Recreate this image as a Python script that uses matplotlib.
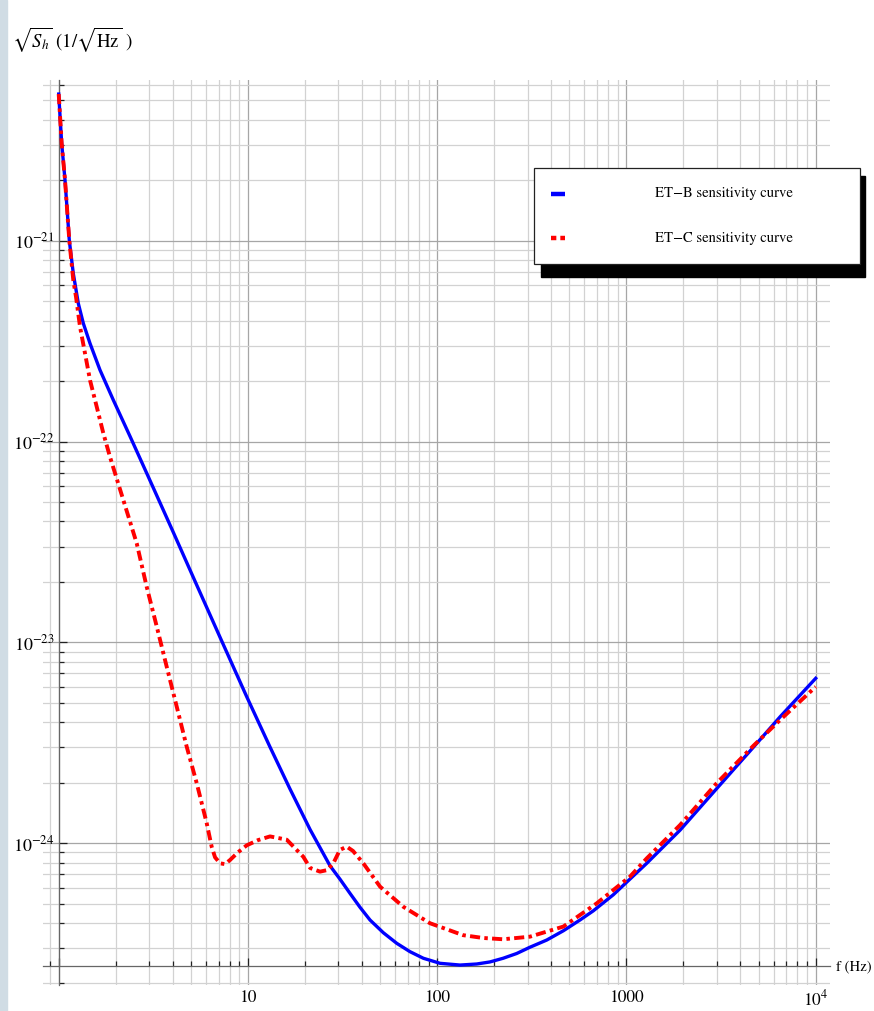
"""ET-B / ET-C sensitivity curves (log-log)."""

import matplotlib
matplotlib.use('Agg')
import matplotlib.pyplot as plt
from matplotlib.patches import Rectangle
from matplotlib.lines import Line2D
from matplotlib.ticker import FixedLocator, FixedFormatter, LogLocator, NullFormatter, LogFormatterMathtext

plt.rcParams['font.family'] = ['STIXGeneral', 'Liberation Serif', 'DejaVu Serif']
plt.rcParams['mathtext.fontset'] = 'stix'

# Curvas (f en Hz, sqrt(S_h) en 1/sqrt(Hz))
etb_freq = [1.0, 1.037, 1.08, 1.138, 1.194, 1.269, 1.349, 1.464, 1.653, 1.943,
            2.381, 2.975, 4.033, 5.36, 7.12, 9.85, 13.08, 16.68, 21.28, 27.14,
            30.65, 34.61, 39.1, 44.16, 51.9, 61.1, 71.8, 84.5, 103.5, 132,
            161.7, 190, 223, 263, 309, 379, 464, 568, 668, 852,
            1279, 1919, 3000, 4680, 6475, 10000]
etb_asd = [5.38e-21, 3.05e-21, 2.0e-21, 1.0e-21, 6.88e-22, 4.88e-22, 3.88e-22, 3.08e-22, 2.27e-22, 1.61e-22,
           1.062e-22, 6.68e-23, 3.53e-23, 1.93e-23, 1.06e-23, 5.36e-24, 3.01e-24, 1.86e-24, 1.17e-24, 7.71e-25,
           6.61e-25, 5.62e-25, 4.79e-25, 4.14e-25, 3.58e-25, 3.17e-25, 2.88e-25, 2.67e-25, 2.52e-25, 2.47e-25,
           2.50e-25, 2.56e-25, 2.67e-25, 2.82e-25, 3.03e-25, 3.29e-25, 3.66e-25, 4.14e-25, 4.60e-25, 5.53e-25,
           7.93e-25, 1.16e-24, 1.87e-24, 3.0e-24, 4.25e-24, 6.62e-24]

etc_freq = [1.0, 1.037, 1.08, 1.138, 1.194, 1.234, 1.296, 1.377, 1.464, 1.588,
            1.721, 1.866, 2.194, 2.584, 2.917, 3.295, 3.722, 4.204, 4.747, 5.36,
            6.05, 6.43, 6.70, 7.12, 7.57, 8.04, 8.86, 9.85, 11.3, 13.08,
            16.03, 19.61, 21.3, 24.03, 26.2, 28.25, 30.6, 33.25, 35.9, 40.7,
            49.9, 66.2, 91.6, 137, 174.6, 223, 309, 464, 696, 1044,
            1279, 1919, 3000, 4680, 6475, 10000]
etc_asd = [5.38e-21, 3.05e-21, 2.0e-21, 1.0e-21, 6.37e-22, 5.26e-22, 3.73e-22, 2.75e-22, 2.02e-22, 1.49e-22,
           1.10e-22, 8.39e-23, 5.12e-23, 3.11e-23, 1.89e-23, 1.20e-23, 7.55e-24, 4.78e-24, 3.02e-24, 1.99e-24,
           1.26e-24, 9.60e-25, 8.50e-25, 7.93e-25, 7.86e-25, 8.24e-25, 9.0e-25, 9.75e-25, 1.035e-24, 1.08e-24,
           1.04e-24, 8.55e-25, 7.52e-25, 7.21e-25, 7.34e-25, 7.93e-25, 9.25e-25, 9.60e-25, 9.14e-25, 7.93e-25,
           6.07e-25, 4.82e-25, 3.99e-25, 3.48e-25, 3.37e-25, 3.32e-25, 3.42e-25, 3.84e-25, 5.01e-25, 6.81e-25,
           8.39e-25, 1.23e-24, 1.99e-24, 3.05e-24, 4.10e-24, 6.01e-24]

x_major = [1, 10, 100, 1000, 10000]
x_labels = ['', '10', '100', '1000', r'$10^4$']
y_major = [1e-24, 1e-23, 1e-22, 1e-21]
series_labels = ['ET\u2212B sensitivity curve', 'ET\u2212C sensitivity curve']

W, H = 874, 1011
RED_DASH = (2.6, 1.1, 0.9, 1.1)


def fx(px):
    return px / W


def fy(py):
    return 1 - py / H


fig = plt.figure(figsize=(W / 100, H / 100), dpi=100)
fig.patches.append(Rectangle((0, 0), fx(7), 1, transform=fig.transFigure,
                             color='#d0dce4', zorder=0))

ax = fig.add_axes([fx(43), fy(985), fx(830) - fx(43), fy(80) - fy(985)])
ax.set_xscale('log')
ax.set_yscale('log')
ax.set_xlim(0.826, 11900)
ax.set_ylim(1.965e-25, 6.32e-21)

ax.plot(etb_freq, etb_asd, color='#0000ff', lw=2.4, zorder=3)
ax.plot(etc_freq, etc_asd, color='#ff0000', lw=2.8, dashes=RED_DASH, zorder=4)

# Ejes estilo Mathematica (se cruzan en f=1 y en el minimo)
for s in ['top', 'right']:
    ax.spines[s].set_visible(False)
ax.spines['left'].set_position(('data', 1.0))
ax.spines['bottom'].set_position(('data', 2.44e-25))
for s in ['left', 'bottom']:
    ax.spines[s].set_color('#666666')
    ax.spines[s].set_linewidth(0.9)

ax.xaxis.set_major_locator(FixedLocator(x_major))
ax.xaxis.set_major_formatter(FixedFormatter(x_labels))
ax.xaxis.set_minor_locator(LogLocator(base=10, subs=range(2, 10), numticks=50))
ax.xaxis.set_minor_formatter(NullFormatter())
ax.yaxis.set_major_locator(FixedLocator(y_major))
ax.yaxis.set_major_formatter(LogFormatterMathtext())
ax.yaxis.set_minor_locator(LogLocator(base=10, subs=range(2, 10), numticks=50))
ax.yaxis.set_minor_formatter(NullFormatter())

ax.tick_params(which='both', direction='in', color='#222222', width=0.9)
ax.tick_params(which='major', length=6)
ax.tick_params(which='minor', length=3.5)
ax.tick_params(axis='x', which='major', labelsize=12.5, pad=17)
ax.tick_params(axis='y', which='major', labelsize=13, pad=3)

ax.grid(which='major', color='#a6a6a6', lw=0.9, zorder=0)
ax.grid(which='minor', color='#d2d2d2', lw=0.9, zorder=0)
ax.set_axisbelow(True)

# Etiquetas de ejes
fig.text(fx(12), fy(40), r'$\sqrt{S_h}$ (1/$\sqrt{\mathrm{Hz}}$ )',
         fontsize=13.5, va='center', ha='left')
fig.text(fx(836), fy(967), 'f (Hz)', fontsize=10.5, va='center', ha='left')

# Leyenda con sombra negra
fig.patches.append(Rectangle((fx(541), fy(277)), fx(865) - fx(541), fy(176) - fy(277),
                             transform=fig.transFigure, color='black', zorder=5))
fig.patches.append(Rectangle((fx(534), fy(264)), fx(860) - fx(534), fy(168) - fy(264),
                             transform=fig.transFigure, facecolor='white',
                             edgecolor='#222222', lw=0.9, zorder=6))
fig.add_artist(Line2D([fx(551), fx(565)], [fy(194), fy(194)], transform=fig.transFigure,
                      color='#0000ff', lw=3.2, solid_capstyle='butt', zorder=7))
fig.add_artist(Line2D([fx(551), fx(565)], [fy(238), fy(238)], transform=fig.transFigure,
                      color='#ff0000', lw=3.2, dashes=(1.2, 0.9), zorder=7))
fig.text(fx(723.5), fy(193), series_labels[0], fontsize=10.5, ha='center', va='center', zorder=7)
fig.text(fx(723.5), fy(238), series_labels[1], fontsize=10.5, ha='center', va='center', zorder=7)

fig.savefig('out.png', dpi=100)
